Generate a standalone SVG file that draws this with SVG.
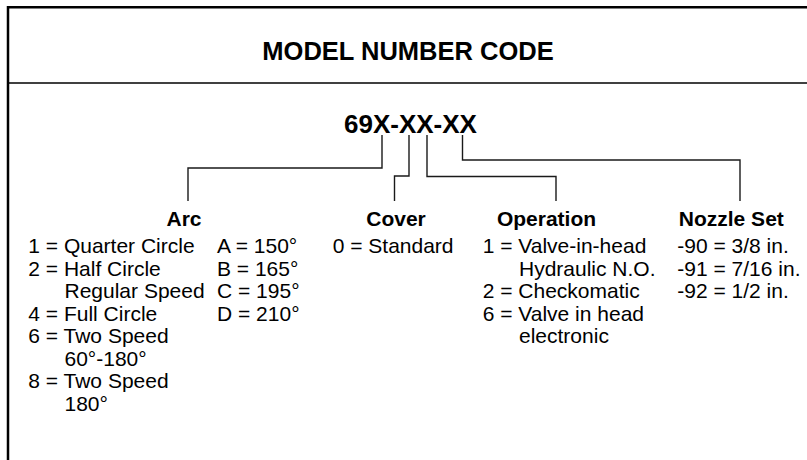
<svg xmlns="http://www.w3.org/2000/svg" width="807" height="460" viewBox="0 0 807 460">
<style>
text{font-family:"Liberation Sans",Arial,sans-serif;fill:#000}
.h{font-weight:bold;font-size:21px}
.b{font-size:21px}
.c{fill:none;stroke:#1a1a1a;stroke-width:1.4}
.f{fill:none;stroke:#000}
</style>
<rect width="807" height="460" fill="#fff"/>
<g id="frame">
<path class="f" stroke-width="2.5" d="M8,460 V7.2 H807"/>
<path class="f" stroke-width="1.6" d="M8,83 H807"/>
</g>
<g id="title"><text x="408" y="60" text-anchor="middle" font-weight="bold" font-size="25.5">MODEL NUMBER CODE</text></g>
<g id="code"><text x="344" y="133" font-weight="bold" font-size="26">69X-XX-XX</text></g>
<g id="connectors">
<path class="c" d="M382,135 V168 H188 V201"/>
<path class="c" d="M409,135 V176 H394.5 V201"/>
<path class="c" d="M427,135 V176.5 H556 V201"/>
<path class="c" d="M462.5,135 V160 H740 V201"/>
</g>
<g id="arc">
<text class="h" x="184" y="225.5" text-anchor="middle">Arc</text>
<text class="b" x="28.3" y="253.3">1 = Quarter Circle</text>
<text class="b" x="28.3" y="276">2 = Half Circle</text>
<text class="b" x="64.5" y="298.3">Regular Speed</text>
<text class="b" x="28.3" y="321">4 = Full Circle</text>
<text class="b" x="28.3" y="343.3">6 = Two Speed</text>
<text class="b" x="64.5" y="365.7">60°-180°</text>
<text class="b" x="28.3" y="388.3">8 = Two Speed</text>
<text class="b" x="64.5" y="411">180°</text>
<text class="b" x="217" y="253.3">A = 150°</text>
<text class="b" x="217" y="276">B = 165°</text>
<text class="b" x="217" y="298.3">C = 195°</text>
<text class="b" x="217" y="321">D = 210°</text>
</g>
<g id="cover">
<text class="h" x="396" y="225.5" text-anchor="middle">Cover</text>
<text class="b" x="332.7" y="253.3">0 = Standard</text>
</g>
<g id="operation">
<text class="h" x="546.5" y="225.5" text-anchor="middle">Operation</text>
<text class="b" x="482.7" y="253.3">1 = Valve-in-head</text>
<text class="b" x="519" y="276">Hydraulic N.O.</text>
<text class="b" x="482.7" y="298.3">2 = Checkomatic</text>
<text class="b" x="482.7" y="321">6 = Valve in head</text>
<text class="b" x="519" y="343.3">electronic</text>
</g>
<g id="nozzle">
<text class="h" x="731.3" y="225.5" text-anchor="middle">Nozzle Set</text>
<text class="b" x="677.3" y="253.3">-90 = 3/8 in.</text>
<text class="b" x="677.3" y="276">-91 = 7/16 in.</text>
<text class="b" x="677.3" y="298.3">-92 = 1/2 in.</text>
</g>
</svg>
